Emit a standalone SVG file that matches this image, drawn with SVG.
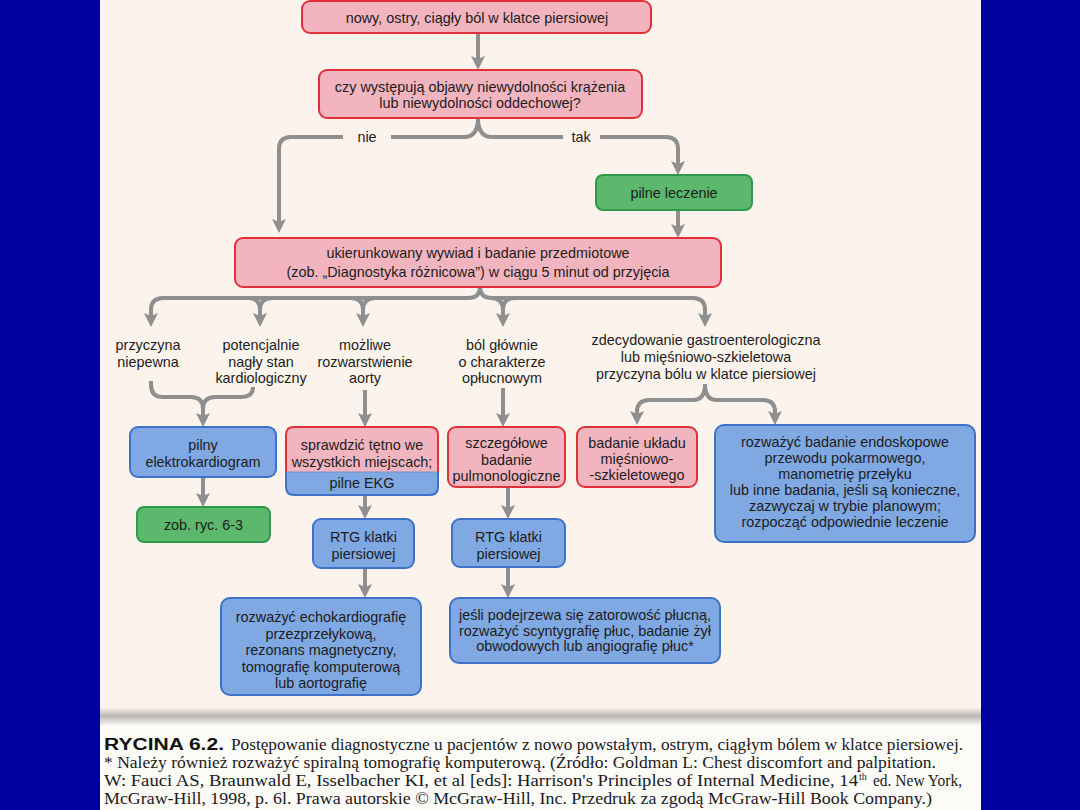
<svg xmlns="http://www.w3.org/2000/svg" width="1080" height="810" viewBox="0 0 1080 810">
<defs>
<style>
.t{font-family:"Liberation Sans",Arial,sans-serif;font-size:14.4px;fill:#1c1c1c;text-anchor:middle}
.red{fill:#f2b5bf;stroke:#e0303a;stroke-width:2}
.blue{fill:#80a8e2;stroke:#3d72c6;stroke-width:2}
.green{fill:#5cb86c;stroke:#2f994c;stroke-width:2}
.c{fill:none;stroke:#8f8f8f;stroke-width:4}
.a{marker-end:url(#ah)}
.cap{font-family:"Liberation Serif","Times New Roman",serif;font-size:16px;fill:#1a1a1a}
</style>
<marker id="ah" markerUnits="userSpaceOnUse" markerWidth="14" markerHeight="14" viewBox="0 0 14 14" refX="4" refY="7" orient="auto">
<path d="M0,0 L14,7 L0,14 L3,7 z" fill="#8f8f8f"/>
</marker>
<linearGradient id="sh" x1="0" y1="0" x2="0" y2="1">
<stop offset="0" stop-color="#f6efe8"/>
<stop offset="0.45" stop-color="#b9b6b3"/>
<stop offset="1" stop-color="#fdfbf8"/>
</linearGradient>
</defs>
<rect x="0" y="0" width="1080" height="810" fill="#00009c"/>
<rect x="100" y="0" width="881" height="810" fill="#fdfbf8"/>
<rect x="100" y="0" width="881" height="710" fill="#fcf4ec"/>
<rect x="100" y="708" width="881" height="18" fill="url(#sh)"/>

<g id="connectors">
<path class="c a" d="M478,33 V60"/>
<path class="c" d="M478,118 Q478,137 464,137 H391 M343,137 H291 Q279,137 279,149 V223"/>
<path class="c a" d="M279,149 V223"/>
<path class="c" d="M478,118 Q478,137 492,137 H563 M600,137 H666 Q678,137 678,149"/>
<path class="c a" d="M678,149 V165"/>
<path class="c a" d="M678,210 V228"/>
<path class="c" d="M480,287 Q480,298 468,298 H163 Q151,298 151,310"/>
<path class="c a" d="M151,310 V317"/>
<path class="c" d="M480,287 Q480,298 492,298 H693 Q705,298 705,310"/>
<path class="c a" d="M705,310 V317"/>
<path class="c" d="M248,298 Q260,298 260,310 Q260,298 272,298"/>
<path class="c a" d="M260,305 V317"/>
<path class="c" d="M351,298 Q363,298 363,310 Q363,298 375,298"/>
<path class="c a" d="M363,305 V317"/>
<path class="c" d="M491,298 Q503,298 503,310 Q503,298 515,298"/>
<path class="c a" d="M503,305 V317"/>
<path class="c" d="M151,381 V385 Q151,397 163,397 H191 Q203,397 203,409 M253,387 Q253,397 241,397 H215 Q203,397 203,409"/>
<path class="c a" d="M203,405 V417"/>
<path class="c a" d="M365,390 V417"/>
<path class="c a" d="M503,388 V417"/>
<path class="c" d="M705,384 Q705,400 693,400 H649 Q637,400 637,412 M705,384 Q705,400 717,400 H763 Q775,400 775,412"/>
<path class="c a" d="M637,408 V415"/>
<path class="c a" d="M775,408 V415"/>
<path class="c a" d="M203,477 V497"/>
<path class="c a" d="M365,495 V509"/>
<path class="c a" d="M508,487 V509"/>
<path class="c a" d="M365,568 V588"/>
<path class="c a" d="M508,567 V588"/>
</g>

<g id="n1"><rect class="red" x="302" y="1" width="349" height="32" rx="8"/>
<text class="t" x="477" y="23">nowy, ostry, ciągły ból w klatce piersiowej</text></g>

<g id="n2"><rect class="red" x="319" y="70" width="323" height="48" rx="8"/>
<text class="t" x="480" y="92">czy występują objawy niewydolności krążenia</text>
<text class="t" x="480" y="108">lub niewydolności oddechowej?</text></g>

<g id="l-nie"><text class="t" x="367" y="142">nie</text></g>
<g id="l-tak"><text class="t" x="581" y="142">tak</text></g>

<g id="n3"><rect class="green" x="596" y="175" width="156" height="35" rx="7"/>
<text class="t" x="674" y="198">pilne leczenie</text></g>

<g id="n4"><rect class="red" x="235" y="238" width="486" height="49" rx="8"/>
<text class="t" x="478" y="258">ukierunkowany wywiad i badanie przedmiotowe</text>
<text class="t" x="478" y="277">(zob. „Diagnostyka różnicowa”) w ciągu 5 minut od przyjęcia</text></g>

<g id="n5"><text class="t" x="148" y="350">przyczyna</text><text class="t" x="148" y="366.5">niepewna</text></g>
<g id="n6"><text class="t" x="261" y="350">potencjalnie</text><text class="t" x="261" y="366.5">nagły stan</text><text class="t" x="261" y="383">kardiologiczny</text></g>
<g id="n7"><text class="t" x="365" y="350">możliwe</text><text class="t" x="365" y="366.5">rozwarstwienie</text><text class="t" x="365" y="383">aorty</text></g>
<g id="n8"><text class="t" x="502" y="350">ból głównie</text><text class="t" x="502" y="366.5">o charakterze</text><text class="t" x="502" y="383">opłucnowym</text></g>
<g id="n9"><text class="t" x="706" y="345">zdecydowanie gastroenterologiczna</text><text class="t" x="706" y="362">lub mięśniowo-szkieletowa</text><text class="t" x="706" y="379">przyczyna bólu w klatce piersiowej</text></g>

<g id="n10"><rect class="blue" x="130" y="427" width="146" height="50" rx="8"/>
<text class="t" x="203" y="450">pilny</text><text class="t" x="203" y="467">elektrokardiogram</text></g>

<g id="n11">
<path d="M294,427 H430 Q438,427 438,435 V472 H286 V435 Q286,427 294,427 z" fill="#f2b5bf"/>
<path d="M286,472 H438 V487 Q438,495 430,495 H294 Q286,495 286,487 z" fill="#80a8e2"/>
<path d="M286,472 H438" stroke="#7a90c8" stroke-width="1"/>
<path d="M294,427 H430 Q438,427 438,435 V472" fill="none" stroke="#e0303a" stroke-width="2"/>
<path d="M286,472 V435 Q286,427 294,427" fill="none" stroke="#e0303a" stroke-width="2"/>
<path d="M438,472 V487 Q438,495 430,495 H294 Q286,495 286,487 V472" fill="none" stroke="#3d72c6" stroke-width="2"/>
<text class="t" x="362" y="450">sprawdzić tętno we</text><text class="t" x="362" y="467">wszystkich miejscach;</text><text class="t" x="362" y="488">pilne EKG</text></g>

<g id="n12"><rect class="red" x="448" y="427" width="117" height="60" rx="8"/>
<text class="t" x="506.5" y="448">szczegółowe</text><text class="t" x="506.5" y="465">badanie</text><text class="t" x="506.5" y="481">pulmonologiczne</text></g>

<g id="n13"><rect class="red" x="577" y="427" width="120" height="60" rx="8"/>
<text class="t" x="637" y="448">badanie układu</text><text class="t" x="637" y="464">mięśniowo-</text><text class="t" x="637" y="480">-szkieletowego</text></g>

<g id="n14"><rect class="blue" x="715" y="425" width="260" height="117" rx="9"/>
<text class="t" x="845" y="447">rozważyć badanie endoskopowe</text>
<text class="t" x="845" y="463">przewodu pokarmowego,</text>
<text class="t" x="845" y="479">manometrię przełyku</text>
<text class="t" x="845" y="495">lub inne badania, jeśli są konieczne,</text>
<text class="t" x="845" y="511">zazwyczaj w trybie planowym;</text>
<text class="t" x="845" y="527">rozpocząć odpowiednie leczenie</text></g>

<g id="n15"><rect class="green" x="137" y="507" width="133" height="35" rx="7"/>
<text class="t" x="203.5" y="530">zob. ryc. 6-3</text></g>

<g id="n16"><rect class="blue" x="313" y="519" width="101" height="49" rx="8"/>
<text class="t" x="363.5" y="542">RTG klatki</text><text class="t" x="363.5" y="559">piersiowej</text></g>

<g id="n17"><rect class="blue" x="452" y="519" width="113" height="48" rx="8"/>
<text class="t" x="508.5" y="542">RTG klatki</text><text class="t" x="508.5" y="559">piersiowej</text></g>

<g id="n18"><rect class="blue" x="221" y="598" width="200" height="97" rx="9"/>
<text class="t" x="321" y="622">rozważyć echokardiografię</text>
<text class="t" x="321" y="638.5">przezprzełykową,</text>
<text class="t" x="321" y="655">rezonans magnetyczny,</text>
<text class="t" x="321" y="671.5">tomografię komputerową</text>
<text class="t" x="321" y="688">lub aortografię</text></g>

<g id="n19"><rect class="blue" x="450" y="598" width="270" height="65" rx="9"/>
<text class="t" x="585" y="620">jeśli podejrzewa się zatorowość płucną,</text>
<text class="t" x="585" y="635.5">rozważyć scyntygrafię płuc, badanie żył</text>
<text class="t" x="585" y="651">obwodowych lub angiografię płuc*</text></g>

<g id="caption">
<text x="104" y="750" style="font-family:'Liberation Sans Narrow','Liberation Sans',sans-serif;font-weight:bold;font-size:16px;fill:#111" textLength="120" lengthAdjust="spacingAndGlyphs">RYCINA 6.2.</text>
<text class="cap" x="231" y="750" textLength="732" lengthAdjust="spacingAndGlyphs">Postępowanie diagnostyczne u pacjentów z nowo powstałym, ostrym, ciągłym bólem w klatce piersiowej.</text>
<text class="cap" x="104" y="768" textLength="832" lengthAdjust="spacingAndGlyphs">* Należy również rozważyć spiralną tomografię komputerową. (Źródło: Goldman L: Chest discomfort and palpitation.</text>
<text class="cap" x="104" y="786" textLength="754" lengthAdjust="spacingAndGlyphs">W: Fauci AS, Braunwald E, Isselbacher KI, et al [eds]: Harrison's Principles of Internal Medicine, 14</text>
<text class="cap" x="859" y="780" style="font-size:10px">th</text>
<text class="cap" x="873" y="786" textLength="89" lengthAdjust="spacingAndGlyphs">ed. New York,</text>
<text class="cap" x="104" y="804" textLength="828" lengthAdjust="spacingAndGlyphs">McGraw-Hill, 1998, p. 6l. Prawa autorskie © McGraw-Hill, Inc. Przedruk za zgodą McGraw-Hill Book Company.)</text>
</g>
</svg>
